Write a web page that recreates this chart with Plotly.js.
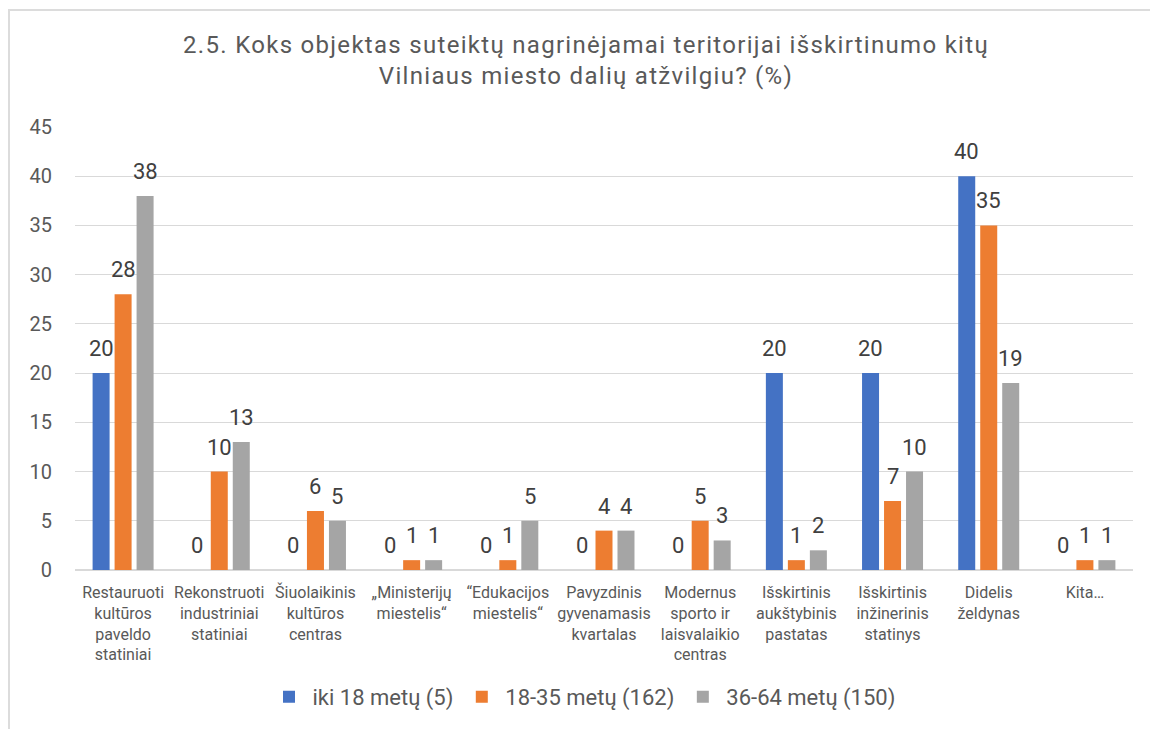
<!DOCTYPE html>
<html><head><meta charset="utf-8">
<script src="https://cdn.plot.ly/plotly-3.0.1.min.js"></script>
<style>
html,body{margin:0;padding:0;background:#fff;overflow:hidden}
#chart{width:1150px;height:729px;position:absolute;left:0;top:0}
#frame{position:absolute;left:8px;top:9px;width:1300px;height:900px;border:2px solid #dcdcdc;pointer-events:none;z-index:10}
#chart svg text.gtitle{letter-spacing:1.3px}
</style></head>
<body>
<div id="chart"></div>
<div id="frame"></div>
<script>
const categories = [
  "Restauruoti<br>kultūros<br>paveldo<br>statiniai",
  "Rekonstruoti<br>industriniai<br>statiniai",
  "Šiuolaikinis<br>kultūros<br>centras",
  "„Ministerijų<br>miestelis“",
  "“Edukacijos<br>miestelis“",
  "Pavyzdinis<br>gyvenamasis<br>kvartalas",
  "Modernus<br>sporto ir<br>laisvalaikio<br>centras",
  "Išskirtinis<br>aukštybinis<br>pastatas",
  "Išskirtinis<br>inžinerinis<br>statinys",
  "Didelis<br>želdynas",
  "Kita…"
];
const seriesNames = ["iki 18 metų (5)", "18-35 metų (162)", "36-64 metų (150)"];
const iki18 = [20, 0, 0, 0, 0, 0, 0, 20, 20, 40, 0];
const m18_35 = [28, 10, 6, 1, 1, 4, 5, 1, 7, 35, 1];
const m36_64 = [38, 13, 5, 1, 5, 4, 3, 2, 10, 19, 1];
const yTicks = [0, 5, 10, 15, 20, 25, 30, 35, 40, 45];

const colors = ["#4472C4", "#ED7D31", "#A5A5A5"];
const allSeries = [iki18, m18_35, m36_64];

const W = 1150, H = 729;
const margin = {l: 75, r: 17, t: 127, b: 159, pad: 0};
const bargap = 0.314, bargroupgap = 0.227;
const plotW = W - margin.l - margin.r;
const slot = (plotW / categories.length) * (1 - bargap) / allSeries.length;

const traces = allSeries.map((vals, s) => ({
  type: "bar",
  name: seriesNames[s],
  x: categories,
  y: vals,
  marker: {color: colors[s]},
  hoverinfo: "skip"
}));

const annotations = [];
allSeries.forEach((vals, s) => {
  vals.forEach((v, i) => {
    annotations.push({
      x: categories[i], y: v, xref: "x", yref: "y",
      text: String(v), showarrow: false,
      xshift: (s - (allSeries.length - 1) / 2) * slot,
      yshift: 10, yanchor: "bottom", xanchor: "center",
      font: {family: "Roboto, sans-serif", size: 22, color: "#404040"}
    });
  });
});

const layout = {
  width: W, height: H,
  margin: margin,
  paper_bgcolor: "#ffffff", plot_bgcolor: "#ffffff",
  barmode: "group", bargap: bargap, bargroupgap: bargroupgap,
  font: {family: "Roboto, sans-serif", color: "#595959"},
  title: {
    text: "2.5. Koks objektas suteiktų nagrinėjamai teritorijai išskirtinumo kitų<br>Vilniaus miesto dalių atžvilgiu? (%)",
    font: {family: "Roboto, sans-serif", size: 24, color: "#595959"},
    xref: "container", x: 586 / W, xanchor: "center",
    yref: "container", y: 1 - 53 / H, yanchor: "top"
  },
  xaxis: {
    type: "category",
    tickfont: {family: "Roboto, sans-serif", size: 16, color: "#595959"},
    showline: false, ticks: "", showgrid: false, zeroline: false,
    ticklabelstandoff: 11, fixedrange: true
  },
  yaxis: {
    range: [0, 45], tickvals: yTicks, ticktext: yTicks.map(String),
    tickfont: {family: "Roboto, sans-serif", size: 20, color: "#595959"},
    gridcolor: "#d9d9d9", gridwidth: 1,
    zeroline: true, zerolinecolor: "#d9d9d9", zerolinewidth: 1.5,
    showline: false, ticks: "", ticklabelstandoff: 22, fixedrange: true
  },
  legend: {
    orientation: "h",
    xref: "container", x: 583 / W, xanchor: "center",
    yref: "container", y: 1 - 697 / H, yanchor: "middle",
    font: {family: "Roboto, sans-serif", size: 22, color: "#595959"},
    itemwidth: 37, traceorder: "normal"
  },
  showlegend: true,
  annotations: annotations
};

Plotly.newPlot("chart", traces, layout, {displayModeBar: false, staticPlot: true});
</script>
</body></html>
